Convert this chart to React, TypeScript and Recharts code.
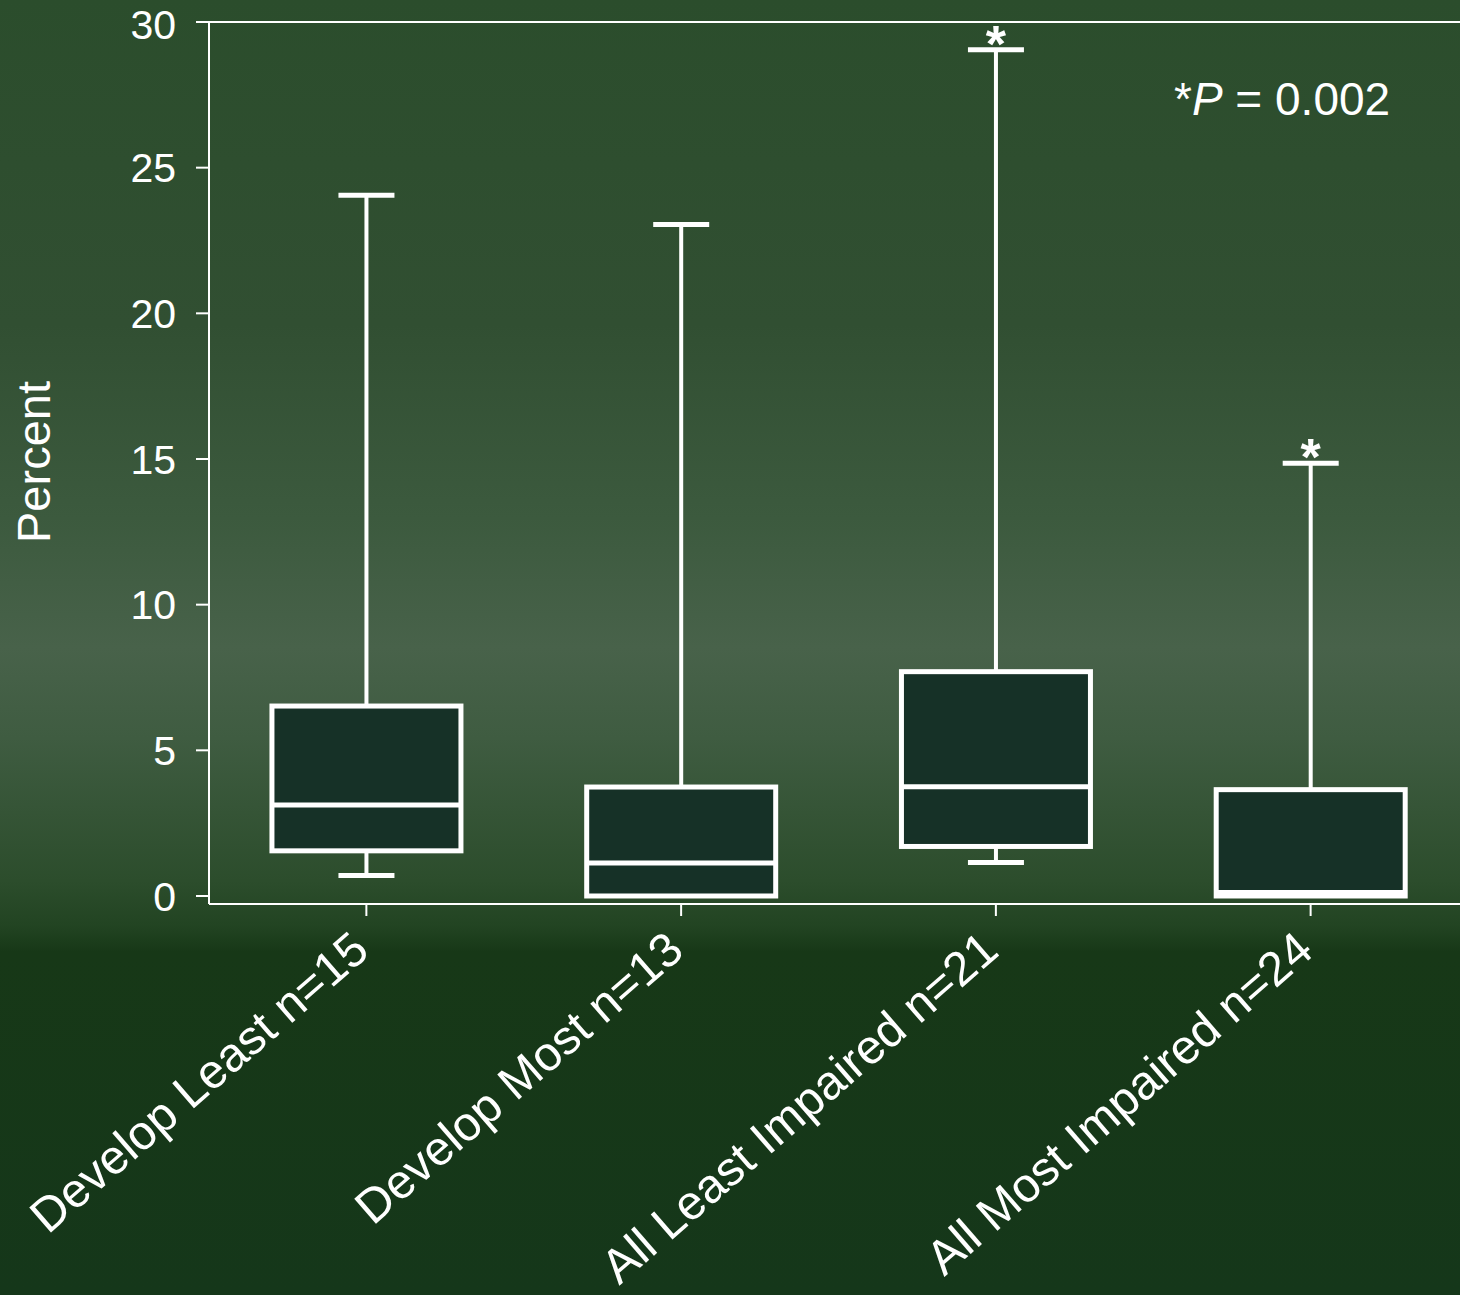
import React from "react";
import {
  ComposedChart, Bar, XAxis, YAxis, ReferenceLine, Label, Customized,
} from "recharts";

const FONT = "Liberation Sans, Arial, Helvetica, sans-serif";
const WHITE = "#FFFFFF";
const BOX_FILL = "#163127";

const groups = ["Develop Least n=15", "Develop Most n=13", "All Least Impaired n=21", "All Most Impaired n=24"];
const mins = [0.7, 0, 1.15, 0];
const q1s = [1.55, 0, 1.7, 0];
const medians = [3.12, 1.13, 3.75, 0.12];
const q3s = [6.52, 3.74, 7.7, 3.65];
const maxs = [24.05, 23.05, 29.05, 14.85];
const starred = [false, false, true, true];
const yTicks = [0, 5, 10, 15, 20, 25, 30];

const data = groups.map((g, i) => ({
  g, min: mins[i], q1: q1s[i], med: medians[i], q3: q3s[i], max: maxs[i], star: starred[i],
  range: [mins[i], maxs[i]],
}));

function BoxShape(props: any) {
  const { x, y, width, height, payload } = props;
  const top = Math.min(y, y + height);
  const h = Math.abs(height);
  const { min, max, q1, q3, med, star } = payload;
  const py = (v: number) => top + (h * (max - v)) / (max - min);
  const cx = x + width / 2;
  const cap = 56;
  return (
    <g>
      <line x1={cx} x2={cx} y1={py(max)} y2={py(q3)} stroke={WHITE} strokeWidth={4} />
      <line x1={cx} x2={cx} y1={py(q1)} y2={py(min)} stroke={WHITE} strokeWidth={4} />
      <line x1={cx - cap / 2} x2={cx + cap / 2} y1={py(max)} y2={py(max)} stroke={WHITE} strokeWidth={5} />
      {min < q1 && (
        <line x1={cx - cap / 2} x2={cx + cap / 2} y1={py(min)} y2={py(min)} stroke={WHITE} strokeWidth={5} />
      )}
      <rect x={x} y={py(q3)} width={width} height={py(q1) - py(q3)} fill={BOX_FILL} stroke={WHITE} strokeWidth={5} />
      <line x1={x} x2={x + width} y1={py(med)} y2={py(med)} stroke={WHITE} strokeWidth={5} />
      {star && (
        <text x={cx} y={py(max) + 12} textAnchor="middle" fill={WHITE} fontSize={52} fontWeight="bold" fontFamily={FONT}>*</text>
      )}
    </g>
  );
}

function XTick(props: any) {
  const { x, y, payload } = props;
  const tx = x + 5;
  const ty = y + 36;
  return (
    <text x={tx} y={ty} textAnchor="end" fill={WHITE} fontSize={48} fontFamily={FONT}
      transform={`rotate(-41 ${tx} ${ty})`}>
      {payload.value}
    </text>
  );
}

function PNote() {
  return (
    <text x={1174} y={115} fill={WHITE} fontSize={46} fontFamily={FONT}>
      *<tspan fontStyle="italic">P</tspan> = 0.002
    </text>
  );
}

export default function App() {
  return (
    <div style={{
      position: "absolute", left: 0, top: 0, width: 1460, height: 1295, overflow: "hidden",
      background: "linear-gradient(to bottom, #2b4d2c 0%, #314f32 25%, #3c5a3e 40%, #48624a 50%, #3f5c41 57%, #2c4d2c 68%, #224422 71.5%, #173817 73.5%, #15371a 100%)",
    }}>
      <ComposedChart width={1468} height={1295} data={data}
        margin={{ top: 22, right: 0, left: 0, bottom: 0 }} barCategoryGap="20%">
        <XAxis dataKey="g" height={391} interval={0} tick={<XTick />} tickSize={12}
          axisLine={{ stroke: WHITE, strokeWidth: 2 }} tickLine={{ stroke: WHITE, strokeWidth: 2 }} />
        <YAxis width={209} domain={[-0.275, 30]} ticks={yTicks} allowDataOverflow tickSize={13} tickMargin={20}
          axisLine={{ stroke: WHITE, strokeWidth: 2 }} tickLine={{ stroke: WHITE, strokeWidth: 2 }}
          tick={{ fill: WHITE, fontSize: 41, fontFamily: FONT }}>
          <Label content={() => (
            <text x={50} y={462} textAnchor="middle" fill={WHITE} fontSize={47} fontFamily={FONT}
              transform="rotate(-90 50 462)">Percent</text>
          )} />
        </YAxis>
        <ReferenceLine y={30} stroke={WHITE} strokeWidth={2} />
        <Bar dataKey="range" shape={<BoxShape />} isAnimationActive={false} />
        <Customized component={PNote} />
      </ComposedChart>
    </div>
  );
}
